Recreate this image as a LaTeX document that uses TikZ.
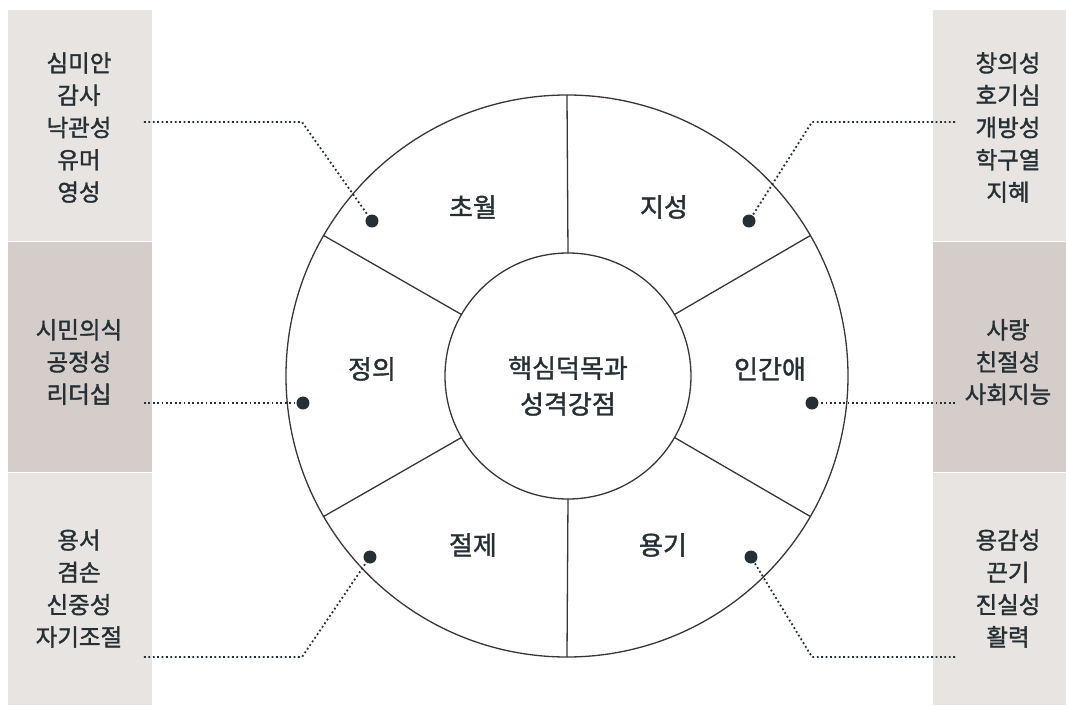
\documentclass[tikz,border=0pt]{standalone}
\usepackage{fontspec}
\setmainfont{Noto Sans CJK KR}[FakeBold=1.5]
\usetikzlibrary{positioning}
\definecolor{panellight}{HTML}{E8E4E2}
\definecolor{paneldark}{HTML}{D4CDCA}
\definecolor{inkdark}{HTML}{263034}
\definecolor{wheelline}{HTML}{3A3433}

\begin{document}
\begin{tikzpicture}[x=1pt,y=1pt,
		ring/.style={circle,draw=wheelline,line width=1.3pt,inner sep=0pt,outer sep=0pt},
		virtue/.style={text=inkdark,font=\fontsize{26}{36}\selectfont,align=center},
		strength/.style={text=inkdark,font=\fontsize{23.5}{32.3}\selectfont,align=center},
		pin/.style={circle,fill=inkdark,inner sep=0pt,minimum size=13pt},
		leader/.style={inkdark,line width=1.8pt,dash pattern=on 1.8pt off 2.6pt}]
		\useasboundingbox (-567,-329) rectangle (499,376);
		% side panels
		\fill[panellight] (-559,366) rectangle (-415,135);
		\fill[paneldark] (-559,134) rectangle (-415,-96);
		\fill[panellight] (-559,-97) rectangle (-415,-329);
		\fill[panellight] (366,366) rectangle (499,135);
		\fill[paneldark] (366,134) rectangle (499,-96);
		\fill[panellight] (366,-97) rectangle (499,-329);
		% strengths
		\node[strength] (beyondlist) at (-488,248.5) {심미안\\감사\\낙관성\\유머\\영성};
		\node[strength] (justicelist) at (-488,14) {시민의식\\공정성\\리더십};
		\node[strength] (temperlist) at (-488,-212.5) {용서\\겸손\\신중성\\자기조절};
		\node[strength] (wisdomlist) at (441,248.5) {창의성\\호기심\\개방성\\학구열\\지혜};
		\node[strength] (humanitylist) at (441,14) {사랑\\친절성\\사회지능};
		\node[strength] (couragelist) at (441,-212.5) {용감성\\끈기\\진실성\\활력};
		% wheel
		\node[ring,minimum size=562pt] (rim) at (0,0) {};
		\node[ring,minimum size=246pt] (hub) at (1,0) {};
		\node[virtue] (core) at (1,-10) {핵심덕목과\\성격강점};
		\foreach \a in {30,90,150,210,270,330}
			\draw[wheelline,line width=1.3pt] (hub.\a) -- (rim.\a);
		\node[virtue] (beyond) at (-94,169) {초월};
		\node[virtue] (wisdom) at (97,169) {지성};
		\node[virtue] (justice) at (-195,7) {정의};
		\node[virtue] (humanity) at (203,7) {인간애};
		\node[virtue] (temper) at (-94,-169) {절제};
		\node[virtue] (courage) at (96,-169) {용기};
		% pins and leaders
		\node[pin] (pbeyond) at (-195,155) {};
		\node[pin] (pwisdom) at (182,155) {};
		\node[pin] (pjustice) at (-264,-27) {};
		\node[pin] (phumanity) at (245,-27) {};
		\node[pin] (ptemper) at (-197,-181) {};
		\node[pin] (pcourage) at (184,-181) {};
		\coordinate (lbeyond) at (-423,254);
		\coordinate (kbeyond) at (-265,254);
		\coordinate (lwisdom) at (388,254);
		\coordinate (kwisdom) at (245,254);
		\coordinate (ljustice) at (-423,-27);
		\coordinate (lhumanity) at (388,-27);
		\coordinate (ltemper) at (-423,-281);
		\coordinate (ktemper) at (-265,-281);
		\coordinate (lcourage) at (388,-281);
		\coordinate (kcourage) at (245,-281);
		\draw[leader] (lbeyond) -- (kbeyond) -- (pbeyond);
		\draw[leader] (lwisdom) -- (kwisdom) -- (pwisdom);
		\draw[leader] (ljustice) -- (pjustice);
		\draw[leader] (lhumanity) -- (phumanity);
		\draw[leader] (ltemper) -- (ktemper) -- (ptemper);
		\draw[leader] (lcourage) -- (kcourage) -- (pcourage);
\end{tikzpicture}
\end{document}
